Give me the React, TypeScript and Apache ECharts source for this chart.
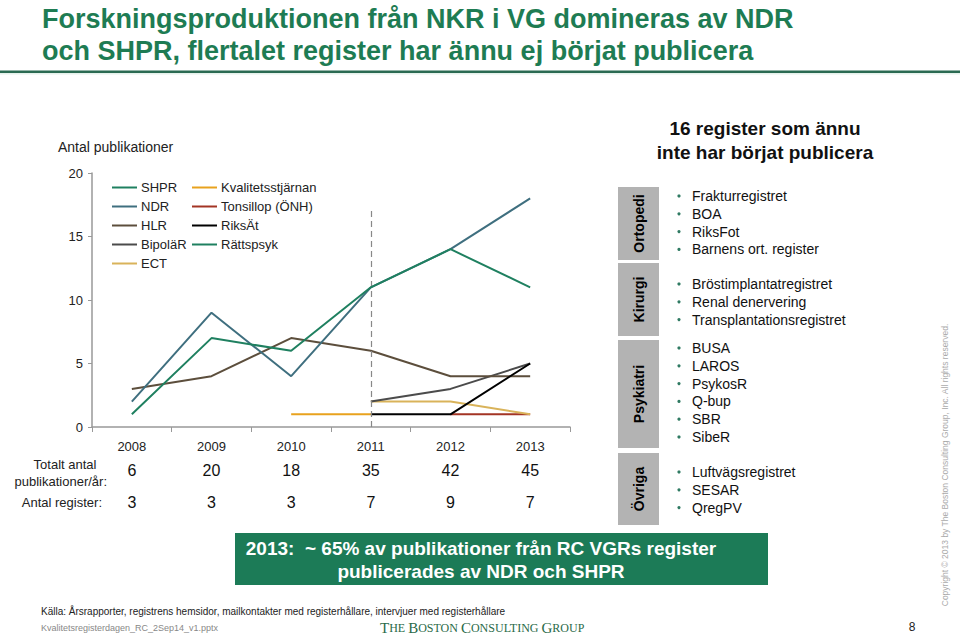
import React, { useEffect, useRef } from "react";
import * as echarts from "echarts";

const years = ["2008", "2009", "2010", "2011", "2012", "2013"];
const totalPubs = [6, 20, 18, 35, 42, 45];
const registerCounts = [3, 3, 3, 7, 9, 7];

const shpr = [1, 7, 6, 11, 14, 11];
const ndr = [2, 9, 4, 11, 14, 18];
const hlr = [3, 4, 7, 6, 4, 4];
const bipolar = [null, null, null, 2, 3, 5];
const ect = [null, null, null, 2, 2, 1];
const kvalitet = [null, null, 1, 1, null, null];
const tonsillop = [null, null, null, null, 1, 1];
const riksat = [null, null, null, 1, 1, 5];
const rattspsyk = [null, null, null, null, null, 1];

const yTicks = [0, 5, 10, 15, 20];

const ortopedi = ["Frakturregistret", "BOA", "RiksFot", "Barnens ort. register"];
const kirurgi = ["Bröstimplantatregistret", "Renal denervering", "Transplantationsregistret"];
const psykiatri = ["BUSA", "LAROS", "PsykosR", "Q-bup", "SBR", "SibeR"];
const ovriga = ["Luftvägsregistret", "SESAR", "QregPV"];

const FONT = "'Liberation Sans', Arial, sans-serif";
const GREEN = "#1e7c53";

export default function App() {
  const ref = useRef<HTMLDivElement>(null);
  useEffect(() => {
    if (!ref.current) return;
    const chart = echarts.init(ref.current, null, { renderer: "svg" });

    const mk = (name: string, data: any[], color: string, z = 2) => ({
      name,
      type: "line",
      data,
      showSymbol: false,
      symbol: "none",
      z,
      lineStyle: { color, width: 2 },
      itemStyle: { color },
      connectNulls: false,
    });

    const series: any[] = [
      mk("Kvalitetsstjärnan", kvalitet, "#e8a21e", 2),
      mk("Tonsillop (ÖNH)", tonsillop, "#a33424", 2),
      mk("ECT", ect, "#d9b35a", 3),
      mk("RiksÄt", riksat, "#000000", 4),
      mk("Rättspsyk", rattspsyk, "#1f8060", 2),
      mk("BipoläR", bipolar, "#4b4b4b", 3),
      mk("HLR", hlr, "#5c4e3c", 3),
      mk("NDR", ndr, "#3f6f7f", 4),
      mk("SHPR", shpr, "#1f8060", 5),
    ];
    series[3].markLine = {
      silent: true,
      symbol: ["none", "none"],
      label: { show: false },
      lineStyle: { color: "#888", width: 1.2, type: [6, 4] },
      data: [[{ coord: ["2011", 0] }, { coord: ["2011", 17] }]],
    };

    // Right panel
    const groups = [
      { name: "Ortopedi", items: ortopedi, y0: 187, y1: 260, first: 196 },
      { name: "Kirurgi", items: kirurgi, y0: 263, y1: 336, first: 284 },
      { name: "Psykiatri", items: psykiatri, y0: 340, y1: 448, first: 348 },
      { name: "Övriga", items: ovriga, y0: 453, y1: 525, first: 472 },
    ];
    const panel: any[] = [];
    groups.forEach((g) => {
      panel.push({
        type: "rect",
        shape: { x: 618, y: g.y0, width: 41, height: g.y1 - g.y0 },
        style: { fill: "#b3b3b3" },
      });
      panel.push({
        type: "text",
        x: 638.5,
        y: (g.y0 + g.y1) / 2,
        rotation: Math.PI / 2,
        style: {
          text: g.name,
          font: `bold 14px ${FONT}`,
          fill: "#000",
          align: "center",
          verticalAlign: "middle",
        },
      });
      g.items.forEach((it, i) => {
        const y = g.first + i * 17.8;
        panel.push({
          type: "circle",
          shape: { cx: 679, cy: y, r: 1.6 },
          style: { fill: "#2f7a62" },
        });
        panel.push({
          type: "text",
          x: 692,
          y,
          style: {
            text: it,
            font: `14px ${FONT}`,
            fill: "#111",
            verticalAlign: "middle",
          },
        });
      });
    });

    const option: any = {
      animation: false,
      backgroundColor: "#ffffff",
      grid: { left: 92, right: 390, top: 173, bottom: 209, containLabel: false },
      legend: [
        {
          orient: "vertical",
          left: 107,
          top: 176,
          itemGap: 6,
          itemWidth: 25,
          itemHeight: 2,
          icon: "rect",
          textStyle: { fontFamily: FONT, fontSize: 13, color: "#222", padding: [0, 0, 0, -1] },
          data: ["SHPR", "NDR", "HLR", "BipoläR", "ECT"],
        },
        {
          orient: "vertical",
          left: 187,
          top: 176,
          itemGap: 6,
          itemWidth: 25,
          itemHeight: 2,
          icon: "rect",
          textStyle: { fontFamily: FONT, fontSize: 13, color: "#222", padding: [0, 0, 0, -1] },
          data: ["Kvalitetsstjärnan", "Tonsillop (ÖNH)", "RiksÄt", "Rättspsyk"],
        },
      ],
      xAxis: {
        type: "category",
        data: years,
        boundaryGap: true,
        axisLine: { show: true, lineStyle: { color: "#999", width: 1.5 } },
        axisTick: { show: true, length: 5, lineStyle: { color: "#999" } },
        axisLabel: {
          margin: 9,
          interval: 0,
          formatter: (v: string, i: number) =>
            `{y|${v}}\n{t|${totalPubs[i]}}\n{r|${registerCounts[i]}}`,
          rich: {
            y: { fontFamily: FONT, fontSize: 13, color: "#222", lineHeight: 20 },
            t: { fontFamily: FONT, fontSize: 16, color: "#111", lineHeight: 28 },
            r: { fontFamily: FONT, fontSize: 16, color: "#111", lineHeight: 36 },
          },
        },
      },
      yAxis: {
        type: "value",
        min: yTicks[0],
        max: yTicks[yTicks.length - 1],
        interval: 5,
        axisLine: { show: true, lineStyle: { color: "#999", width: 1.5 } },
        axisTick: { show: true, length: 4, lineStyle: { color: "#999" } },
        splitLine: { show: false },
        axisLabel: { margin: 9, fontFamily: FONT, fontSize: 13, color: "#222" },
      },
      series,
      graphic: [
        {
          type: "text",
          x: 42,
          y: 3,
          style: {
            text: "Forskningsproduktionen från NKR i VG domineras av NDR\noch SHPR, flertalet register har ännu ej börjat publicera",
            font: `bold 27px ${FONT}`,
            fill: GREEN,
            lineHeight: 32,
          },
        },
        {
          type: "rect",
          shape: { x: 0, y: 70.5, width: 960, height: 2.5 },
          style: { fill: "#2b6a52" },
        },
        {
          type: "rect",
          shape: { x: 0, y: 73, width: 960, height: 1.5 },
          style: { fill: "#e6f2ec" },
        },
        {
          type: "text",
          x: 58,
          y: 147,
          style: {
            text: "Antal publikationer",
            font: `14px ${FONT}`,
            fill: "#222",
            verticalAlign: "middle",
          },
        },
        {
          type: "text",
          x: 65,
          y: 464,
          style: { text: "Totalt antal", font: `13px ${FONT}`, fill: "#222", align: "center", verticalAlign: "middle" },
        },
        {
          type: "text",
          x: 107,
          y: 481,
          style: { text: "publikationer/år:", font: `13px ${FONT}`, fill: "#222", align: "right", verticalAlign: "middle" },
        },
        {
          type: "text",
          x: 102,
          y: 502,
          style: { text: "Antal register:", font: `13px ${FONT}`, fill: "#222", align: "right", verticalAlign: "middle" },
        },
        {
          type: "text",
          x: 765,
          y: 140,
          style: {
            text: "16 register som ännu\ninte har börjat publicera",
            font: `bold 19px ${FONT}`,
            fill: "#111",
            align: "center",
            verticalAlign: "middle",
            lineHeight: 24,
          },
        },
        ...panel,
        {
          type: "rect",
          shape: { x: 235, y: 533, width: 533, height: 52 },
          style: { fill: "#1c7b57" },
        },
        {
          type: "text",
          x: 481,
          y: 560,
          style: {
            text: "2013:  ~ 65% av publikationer från RC VGRs register\npublicerades av NDR och SHPR",
            font: `bold 19px ${FONT}`,
            fill: "#ffffff",
            align: "center",
            verticalAlign: "middle",
            lineHeight: 23,
          },
        },
        {
          type: "text",
          x: 41,
          y: 611,
          style: {
            text: "Källa: Årsrapporter, registrens hemsidor, mailkontakter med registerhållare, intervjuer med registerhållare",
            font: `10px ${FONT}`,
            fill: "#222",
            verticalAlign: "middle",
          },
        },
        {
          type: "text",
          x: 41,
          y: 628,
          style: {
            text: "Kvalitetsregisterdagen_RC_2Sep14_v1.pptx",
            font: `9px ${FONT}`,
            fill: "#888",
            verticalAlign: "middle",
          },
        },
        {
          type: "text",
          x: 380,
          y: 628,
          style: {
            text: "{b|T}{s|HE }{b|B}{s|OSTON }{b|C}{s|ONSULTING }{b|G}{s|ROUP}",
            fill: "#2a6a48",
            verticalAlign: "middle",
            rich: {
              b: { fontFamily: "'Liberation Serif', serif", fontSize: 15, fill: "#2a6a48" },
              s: { fontFamily: "'Liberation Serif', serif", fontSize: 12, fill: "#2a6a48" },
            },
          },
        },
        {
          type: "text",
          x: 912,
          y: 627,
          style: { text: "8", font: `12px ${FONT}`, fill: "#222", align: "center", verticalAlign: "middle" },
        },
        {
          type: "text",
          x: 945,
          y: 465,
          rotation: Math.PI / 2,
          style: {
            text: "Copyright © 2013 by The Boston Consulting Group, Inc. All rights reserved.",
            font: `8.5px ${FONT}`,
            fill: "#aaaaaa",
            align: "center",
            verticalAlign: "middle",
          },
        },
      ],
    };
    chart.setOption(option);
    return () => chart.dispose();
  }, []);

  return (
    <div
      ref={ref}
      style={{ position: "fixed", left: 0, top: 0, width: 960, height: 636, background: "#fff" }}
    />
  );
}
